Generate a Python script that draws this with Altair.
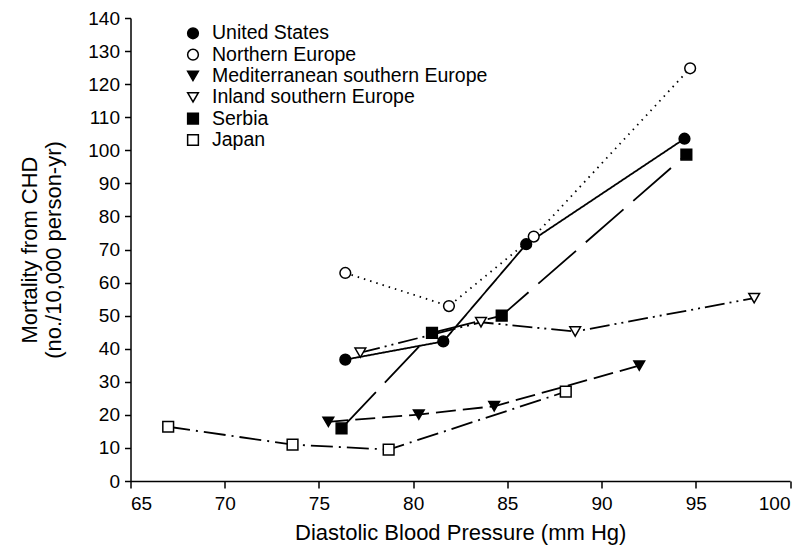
import altair as alt
import pandas as pd

series = ["United States", "Northern Europe", "Mediterranean southern Europe",
          "Inland southern Europe", "Serbia", "Japan"]

us_x = [76.4, 81.6, 86.0, 94.4]
us_y = [36.7, 42.2, 71.6, 103.5]
ne_x = [76.4, 81.9, 86.4, 94.7]
ne_y = [62.9, 52.9, 73.9, 124.8]
med_x = [75.5, 80.3, 84.3, 92.0]
med_y = [17.9, 20.1, 22.6, 34.9]
inl_x = [77.2, 83.6, 88.6, 98.1]
inl_y = [38.8, 48.0, 45.2, 55.3]
ser_x = [76.2, 81.0, 84.7, 94.5]
ser_y = [15.9, 44.8, 50.0, 98.7]
jap_x = [67.0, 73.6, 78.7, 88.1]
jap_y = [16.4, 11.0, 9.5, 27.0]

xs = [us_x, ne_x, med_x, inl_x, ser_x, jap_x]
ys = [us_y, ne_y, med_y, inl_y, ser_y, jap_y]

x_ticks = [65, 70, 75, 80, 85, 90, 95, 100]
y_ticks = list(range(0, 141, 10))

shapes = ["circle", "circle", "triangle-down", "triangle-down", "square", "square"]
fills = ["black", "white", "black", "white", "black", "white"]
dashes = [[1, 0], [1.5, 5], [20, 7], [20, 5, 2, 5, 2, 5], [50, 13], [22, 6, 2, 6]]

rows = []
for name, xv, yv in zip(series, xs, ys):
    for i, (a, b) in enumerate(zip(xv, yv)):
        rows.append({"series": name, "dbp": a, "mort": b, "order": i})
df = pd.DataFrame(rows)
leg_df = pd.DataFrame({"series": series})

FONT = "Liberation Sans"

shape_scale = alt.Scale(domain=series, range=shapes)
fill_scale = alt.Scale(domain=series, range=fills)

x_enc = alt.X("dbp:Q", scale=alt.Scale(domain=[65, 100], nice=False, zero=False),
              axis=alt.Axis(values=x_ticks, title="Diastolic Blood Pressure (mm Hg)",
                            titleFontSize=22, titleFontWeight="normal", titlePadding=9,
                            labelFontSize=19, labelPadding=6, tickSize=7,
                            grid=False, format="d"))
y_enc = alt.Y("mort:Q", scale=alt.Scale(domain=[0, 140], nice=False),
              axis=alt.Axis(values=y_ticks, title=["Mortality from CHD", "(no./10,000 person-yr)"],
                            titleFontSize=22, titleFontWeight="normal", titlePadding=22,
                            labelFontSize=19, labelPadding=5, tickSize=6,
                            grid=False, format="d"))

lines = alt.Chart(df).mark_line(color="black", strokeWidth=1.8).encode(
    x=x_enc, y=y_enc,
    detail="series:N",
    order="order:Q",
    strokeDash=alt.StrokeDash("series:N", scale=alt.Scale(domain=series, range=dashes), legend=None),
)

points = alt.Chart(df).mark_point(filled=True, stroke="black", strokeWidth=1.5,
                                  opacity=1, size=115).encode(
    x=x_enc, y=y_enc,
    shape=alt.Shape("series:N", scale=shape_scale, legend=None),
    fill=alt.Fill("series:N", scale=fill_scale, legend=None),
)

leg_y = alt.Y("series:N", sort=series,
              scale=alt.Scale(type="point", domain=series, range=[15.3, 122], padding=0),
              axis=None)

leg_sym = alt.Chart(leg_df).mark_point(filled=True, stroke="black", strokeWidth=1.5,
                                       opacity=1, size=115).encode(
    x=alt.value(62.5), y=leg_y,
    shape=alt.Shape("series:N", scale=shape_scale, legend=None),
    fill=alt.Fill("series:N", scale=fill_scale, legend=None),
)
leg_txt = alt.Chart(leg_df).mark_text(align="left", baseline="middle", fontSize=19.5,
                                      color="black", font=FONT).encode(
    x=alt.value(81.5), y=leg_y, text="series:N",
)

data_layer = alt.layer(lines, points)
legend_layer = alt.layer(leg_sym, leg_txt)

chart = alt.layer(data_layer, legend_layer).resolve_scale(y="independent").properties(
    width=659.5, height=463,
    autosize=alt.AutoSizeParams(type="none"),
    padding={"left": 122.5, "top": 10, "right": 11, "bottom": 65},
).configure(font=FONT).configure_view(strokeWidth=0).configure_axis(
    domainColor="black", tickColor="black", labelColor="black", titleColor="black",
    domainWidth=1.5, tickWidth=1.5,
)

chart.save("out.html", embed_options={"renderer": "svg", "actions": False})
